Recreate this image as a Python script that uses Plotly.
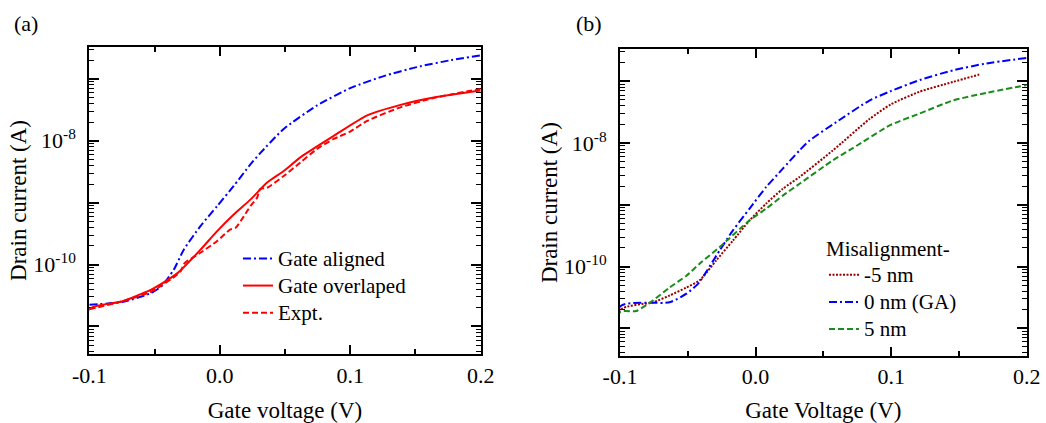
import plotly.graph_objects as go

# ---------------- Panel (a) data ----------------
va_aligned = [-0.1, -0.074, -0.053, -0.045, -0.0352, -0.0276, -0.0148, -0.002, 0.0107, 0.0235,
              0.031, 0.049, 0.0746, 0.1, 0.1257, 0.151, 0.1768, 0.2]
ia_aligned = [2.24e-11, 2.5e-11, 3.45e-11, 4.4e-11, 8.3e-11, 1.74e-10, 4.17e-10, 8.8e-10, 1.86e-9, 4.17e-9,
              6.3e-9, 1.55e-8, 3.72e-8, 7.08e-8, 1.11e-7, 1.55e-7, 2.0e-7, 2.4e-7]

va_overlap = [-0.1, -0.1, -0.076, -0.053, -0.0326, -0.0148, -0.002, 0.0107, 0.0235, 0.0363,
              0.049, 0.0618, 0.0874, 0.113, 0.1385, 0.164, 0.2]
ia_overlap = [1e-13, 1.9e-11, 2.5e-11, 3.9e-11, 7.2e-11, 1.74e-10, 3.47e-10, 6.45e-10, 1.12e-9, 2.11e-9,
              3.24e-9, 5.4e-9, 1.2e-8, 2.57e-8, 3.8e-8, 5.0e-8, 6.5e-8]

va_expt = [-0.1, -0.076, -0.053, -0.035, -0.030, -0.027, -0.0148, -0.002, 0.0082, 0.012,
           0.0184, 0.0235, 0.0286, 0.031, 0.0363, 0.049, 0.0618, 0.0746, 0.0874, 0.1, 0.113, 0.1385, 0.164, 0.2]
ia_expt = [1.9e-11, 2.5e-11, 3.63e-11, 6.3e-11, 7.8e-11, 1.05e-10, 1.55e-10, 2.4e-10, 3.7e-10, 3.9e-10,
           6.0e-10, 8.8e-10, 1.2e-9, 1.66e-9, 1.74e-9, 2.7e-9, 4.47e-9, 7.4e-9, 1.07e-8, 1.41e-8, 2.1e-8,
           3.47e-8, 4.9e-8, 6.9e-8]

# ---------------- Panel (b) data ----------------
vb_m5 = [-0.1, -0.1, -0.0757, -0.0634, -0.051, -0.0413, -0.029, -0.0167, -0.0044, 0.0079, 0.0201,
         0.0324, 0.057, 0.084, 0.1, 0.121, 0.1456, 0.165]
ib_m5 = [1e-13, 1.95e-11, 2.63e-11, 3.39e-11, 4.57e-11, 5.96e-11, 1.26e-10, 2.63e-10, 5.6e-10, 1.05e-9, 1.82e-9,
         2.82e-9, 7.6e-9, 2.45e-8, 4.27e-8, 6.8e-8, 9.8e-8, 1.29e-7]

vb_0 = [-0.1, -0.1, -0.0634, -0.051, -0.0438, -0.0413, -0.0265, -0.0167, -0.0044, 0.0079, 0.0201,
        0.0324, 0.0398, 0.0595, 0.084, 0.0993, 0.121, 0.1456, 0.170, 0.2]
ib_0 = [1e-13, 2.24e-11, 2.63e-11, 3.63e-11, 4.9e-11, 5.6e-11, 1.82e-10, 3.85e-10, 8.7e-10, 1.95e-9, 3.85e-9,
        7.6e-9, 1.1e-8, 2.19e-8, 4.9e-8, 6.9e-8, 1.05e-7, 1.51e-7, 1.95e-7, 2.4e-7]

vb_p5 = [-0.1, -0.1, -0.088, -0.0757, -0.0634, -0.051, -0.0413, -0.0265, -0.0044, 0.0079, 0.0201,
         0.0324, 0.057, 0.0718, 0.0993, 0.121, 0.1456, 0.170, 0.2]
ib_p5 = [1e-13, 1.82e-11, 1.9e-11, 2.82e-11, 4.57e-11, 7.1e-11, 1.11e-10, 2.07e-10, 5.6e-10, 8.7e-10, 1.41e-9,
         2.19e-9, 5.25e-9, 8.3e-9, 1.95e-8, 3.02e-8, 4.9e-8, 6.5e-8, 8.7e-8]

# ---------------- Labels ----------------
names_a = ["Gate aligned", "Gate overlaped", "Expt."]
names_b = ["-5 nm", "0 nm (GA)", "5 nm"]
legend_b_title = "Misalignment-"
x_tickvals = [-0.1, 0.0, 0.1, 0.2]
x_ticktext = ["-0.1", "0.0", "0.1", "0.2"]
x_minor = [-0.05, 0.05, 0.15]
y_tickvals = [1e-11, 1e-10, 1e-9, 1e-8, 1e-7]
y_ticktext = [" ", "10<sup>-10</sup>", " ", "10<sup>-8</sup>", " "]
y_minor = [m * 10.0 ** e for e in range(-12, -6) for m in range(2, 10)]

FONT = "Liberation Serif, Times New Roman, serif"
W, H = 1046, 423
LEG_TXT = 21      # rendered legend text size
LEG_ROW = 18.5    # legend font size that sets row pitch (~27 px)

fig = go.Figure()

def add(x, y, name, color, dash, xa, ya, leg):
    fig.add_trace(go.Scatter(
        x=x, y=y, mode="lines", xaxis=xa, yaxis=ya, legend=leg,
        name="<span style='font-size:%dpx'>%s</span>" % (LEG_TXT, name),
        line=dict(color=color, width=2, dash=dash, shape="spline", smoothing=0.6),
    ))

add(va_aligned, ia_aligned, names_a[0], "#0000ff", "8px,3px,2px,3px", "x", "y", "legend")
add(va_overlap, ia_overlap, names_a[1], "#ff0000", "solid", "x", "y", "legend")
add(va_expt, ia_expt, names_a[2], "#ff0000", "6px,3px", "x", "y", "legend")

add(vb_m5, ib_m5, names_b[0], "#990000", "2px,1.5px", "x2", "y2", "legend2")
add(vb_0, ib_0, names_b[1], "#0000ff", "8px,3px,2px,3px", "x2", "y2", "legend2")
add(vb_p5, ib_p5, names_b[2], "#1a8c1a", "6px,3px", "x2", "y2", "legend2")

def xax(domain, anchor, title):
    return dict(
        domain=domain, anchor=anchor, range=[-0.1, 0.2], automargin=False, layer="below traces",
        tickmode="array", tickvals=x_tickvals, ticktext=x_ticktext,
        ticks="inside", ticklen=9, tickwidth=1.5, tickcolor="black",
        minor=dict(tickmode="array", tickvals=x_minor, ticks="inside", ticklen=5, tickwidth=1.5, tickcolor="black"),
        showline=True, linewidth=2, linecolor="black", mirror="ticks",
        showgrid=False, zeroline=False,
        tickfont=dict(family=FONT, size=22, color="black"),
        title=dict(text=title, font=dict(family=FONT, size=23, color="black")),
    )

def yax(domain, anchor):
    return dict(
        domain=domain, anchor=anchor, type="log", range=[-11.45, -6.48], automargin=False,
        layer="below traces",
        tickmode="array", tickvals=y_tickvals, ticktext=y_ticktext, ticklabelstandoff=7,
        ticks="inside", ticklen=10, tickwidth=1.5, tickcolor="black",
        minor=dict(tickmode="array", tickvals=y_minor, ticks="inside", ticklen=5, tickwidth=1.2, tickcolor="black"),
        showline=True, linewidth=2, linecolor="black", mirror="ticks",
        showgrid=False, zeroline=False,
        tickfont=dict(family=FONT, size=22, color="black"),
        title=dict(text="Drain current (A)", font=dict(family=FONT, size=23, color="black")),
    )

fig.update_layout(
    template="none",
    width=W, height=H,
    margin=dict(l=0, r=0, t=0, b=0, autoexpand=False),
    paper_bgcolor="white", plot_bgcolor="white",
    font=dict(family=FONT, color="black"),
    xaxis=xax([89.3 / W, 480.7 / W], "y", "Gate voltage (V)"),
    yaxis=yax([1 - 354.3 / H, 1 - 46.7 / H], "x"),
    xaxis2=xax([620 / W, 1026.7 / W], "y2", "Gate Voltage (V)"),
    yaxis2=yax([1 - 356 / H, 1 - 49.3 / H], "x2"),
    legend=dict(x=238 / W, y=1 - 240 / H, xanchor="left", yanchor="top",
                bgcolor="rgba(0,0,0,0)", borderwidth=0,
                font=dict(family=FONT, size=LEG_ROW, color="black")),
    legend2=dict(x=824 / W, y=1 - 229 / H, xanchor="left", yanchor="top",
                 bgcolor="rgba(0,0,0,0)", borderwidth=0,
                 title=dict(text=legend_b_title, font=dict(family=FONT, size=LEG_TXT, color="black")),
                 font=dict(family=FONT, size=LEG_ROW, color="black")),
    annotations=[
        dict(text="(a)", x=25.5 / W, y=1 - 24 / H, xref="paper", yref="paper",
             xanchor="center", yanchor="middle",
             showarrow=False, font=dict(family=FONT, size=22, color="black")),
        dict(text="(b)", x=589 / W, y=1 - 24 / H, xref="paper", yref="paper",
             xanchor="center", yanchor="middle",
             showarrow=False, font=dict(family=FONT, size=22, color="black")),
    ],
)

fig.write_html("out.html", config={"displayModeBar": False},
               post_script="document.body.style.margin='0';document.body.style.padding='0';")
